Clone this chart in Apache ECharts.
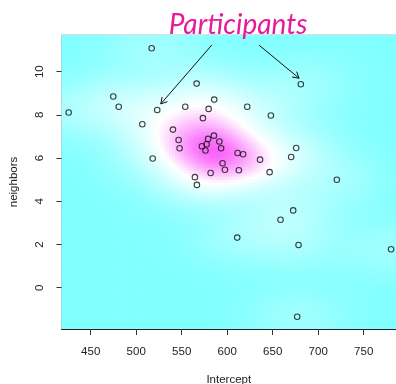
<!DOCTYPE html>
<html>
<head>
<meta charset="utf-8">
<script src="https://cdn.jsdelivr.net/npm/echarts@6/dist/echarts.min.js"></script>
<style>
html, body { margin: 0; padding: 0; background: #fff; }
#chart { width: 396px; height: 384px; }
</style>
</head>
<body>
<div id="chart"></div>
<script>
// participant estimates
const intercept = [517.0, 566.4, 680.9, 474.8, 480.8, 425.8, 523.1, 553.9, 585.7, 579.6,
  622.0, 648.0, 573.3, 506.7, 540.4, 546.6, 547.7, 518.1, 572.2, 576.1,
  577.4, 579.0, 585.4, 591.4, 593.3, 611.4, 617.5, 636.1, 594.9, 597.5,
  612.8, 581.8, 564.5, 566.7, 646.6, 670.3, 675.8, 720.5, 672.5, 658.6,
  611.0, 678.4, 780.1, 676.9];
const neighbors = [11.09, 9.45, 9.42, 8.85, 8.38, 8.11, 8.23, 8.38, 8.71, 8.28,
  8.38, 7.97, 7.85, 7.57, 7.32, 6.84, 6.46, 5.98, 6.55, 6.35,
  6.64, 6.89, 7.04, 6.77, 6.46, 6.24, 6.18, 5.93, 5.76, 5.46,
  5.44, 5.31, 5.12, 4.76, 5.35, 6.05, 6.47, 5.00, 3.58, 3.15,
  2.32, 1.98, 1.78, -1.34];

const xTicks = [450, 500, 550, 600, 650, 700, 750];
const yTicks = [0, 2, 4, 6, 8, 10];

// annotation arrows (data coords)
const arrowFrom = [[583, 11.23], [635, 11.23]];
const arrowTo = [[527, 8.51], [679, 9.70]];

const xMin = 417.9, xMax = 785.5;
const yMin = -1.91, yMax = 11.70;

// 2d kernel density of the points for the background
const nx = 112, ny = 98;
const bwX = 34, bwY = 0.86;
const dx = (xMax - xMin) / nx, dy = (yMax - yMin) / ny;
const cells = [];
let dMax = 0;
for (let i = 0; i < nx; i++) {
  for (let j = 0; j < ny; j++) {
    const cx = xMin + (i + 0.5) * dx, cy = yMin + (j + 0.5) * dy;
    let d = 0;
    for (let k = 0; k < intercept.length; k++) {
      const u = (cx - intercept[k]) / bwX, v = (cy - neighbors[k]) / bwY;
      d += Math.exp(-0.5 * (u * u + v * v));
    }
    if (d > dMax) dMax = d;
    cells.push([xMin + i * dx, xMin + (i + 1) * dx, yMin + j * dy, yMin + (j + 1) * dy, d]);
  }
}

const lowC = [128, 255, 255], midC = [255, 255, 255], highC = [250, 100, 250];
function ramp(t) {
  let a, b, f;
  if (t < 0.5) { a = lowC; b = midC; f = Math.pow(t / 0.5, 0.75); } else { a = midC; b = highC; f = (t - 0.5) / 0.5; }
  const c = a.map((v, n) => Math.round(v + (b[n] - v) * f));
  return 'rgb(' + c.join(',') + ')';
}

const points = intercept.map((x, i) => [x, neighbors[i]]);
const arrows = arrowFrom.map((p, i) => [p[0], p[1], arrowTo[i][0], arrowTo[i][1]]);

const txt = { fontFamily: 'Liberation Sans', fontSize: 11.5, color: '#222' };

var myChart = echarts.init(document.getElementById('chart'));
myChart.setOption({
  animation: false,
  title: {
    text: 'Participants',
    left: 233,
    top: 6,
    textAlign: 'center',
    textStyle: { fontFamily: 'Lato', fontStyle: 'italic', fontWeight: 'normal', fontSize: 28, color: '#E8199A' }
  },
  grid: {
    left: 61.5, top: 35, width: 334.5, height: 294,
    outerBoundsMode: 'none',
    containLabel: false,
    show: true, borderColor: '#b8b8b8', borderWidth: 1, backgroundColor: 'transparent'
  },
  xAxis: {
    type: 'value', min: xMin, max: xMax, z: 10,
    name: 'Intercept', nameLocation: 'middle', nameGap: 45,
    nameTextStyle: txt,
    splitLine: { show: false },
    axisLine: { show: true, onZero: false, lineStyle: { color: '#222', width: 1 } },
    axisTick: { show: true, length: 6, customValues: xTicks, lineStyle: { color: '#333' } },
    axisLabel: Object.assign({ customValues: xTicks, margin: 17 }, txt)
  },
  yAxis: {
    type: 'value', min: yMin, max: yMax, z: 10,
    name: 'neighbors', nameLocation: 'middle', nameGap: 42,
    nameTextStyle: txt,
    splitLine: { show: false },
    axisLine: { show: false, onZero: false },
    axisTick: { show: true, length: 5, customValues: yTicks, lineStyle: { color: '#333' } },
    axisLabel: Object.assign({ customValues: yTicks, margin: 16, rotate: 90 }, txt)
  },
  series: [
    {
      type: 'custom',
      data: cells,
      encode: { x: [0, 1], y: [2, 3] },
      progressive: 0,
      silent: true,
      z: 1,
      clip: true,
      renderItem: function (params, api) {
        const p0 = api.coord([api.value(0), api.value(3)]);
        const p1 = api.coord([api.value(1), api.value(2)]);
        return {
          type: 'rect',
          shape: { x: p0[0], y: p0[1], width: p1[0] - p0[0] + 0.6, height: p1[1] - p0[1] + 0.6 },
          style: { fill: ramp(api.value(4) / dMax) }
        };
      }
    },
    {
      type: 'scatter',
      data: points,
      symbol: 'circle',
      symbolSize: 5.5,
      z: 5,
      itemStyle: { color: 'rgba(0,0,0,0)', borderColor: '#111', borderWidth: 1.1 }
    },
    {
      type: 'custom',
      data: arrows,
      z: 6,
      silent: true,
      renderItem: function (params, api) {
        const a = api.coord([api.value(0), api.value(1)]);
        const b = api.coord([api.value(2), api.value(3)]);
        const ang = Math.atan2(b[1] - a[1], b[0] - a[0]);
        const len = 7, spread = Math.PI / 6;
        const h1 = [b[0] - len * Math.cos(ang - spread), b[1] - len * Math.sin(ang - spread)];
        const h2 = [b[0] - len * Math.cos(ang + spread), b[1] - len * Math.sin(ang + spread)];
        const st = { stroke: '#111', lineWidth: 1, fill: null };
        return {
          type: 'group',
          children: [
            { type: 'line', shape: { x1: a[0], y1: a[1], x2: b[0], y2: b[1] }, style: st },
            { type: 'polyline', shape: { points: [h1, b, h2] }, style: st }
          ]
        };
      }
    }
  ]
});
window.onresize = function () {
  myChart.resize();
};
</script>
</body>
</html>
